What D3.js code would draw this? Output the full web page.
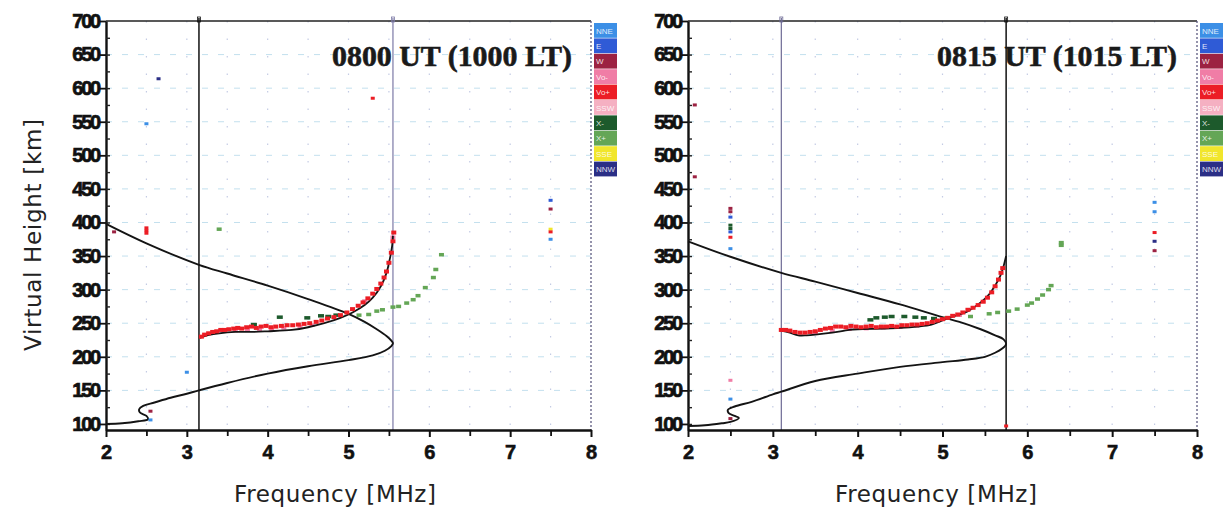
<!DOCTYPE html>
<html>
<head>
<meta charset="utf-8">
<script src="https://cdn.jsdelivr.net/npm/d3@7"></script>
<style>
  html, body { margin: 0; padding: 0; background: #fff; }
  svg { display: block; }
</style>
</head>
<body>
<svg id="chart" width="1225" height="511"></svg>
<script>
// ---- Ionogram data (frequency in MHz, virtual height in km) ----
const freqTicks = [2, 3, 4, 5, 6, 7, 8];
const heightTicks = [100, 150, 200, 250, 300, 350, 400, 450, 500, 550, 600, 650, 700];
const legendKeys = ["NNE", "E", "W", "Vo-", "Vo+", "SSW", "X-", "X+", "SSE", "NNW"];
const legendColors = ["#3c8fe6", "#2f5bd6", "#9c2242", "#f07da6", "#ec1d25", "#f5b0c2", "#1d5a2c", "#64a656", "#f1e62c", "#2b2f86"];

// 0800 UT panel
const titleA = "0800 UT (1000 LT)";
const profileA = [[2.0,100],[2.2,101],[2.4,104],[2.52,107],[2.5,112],[2.42,117],[2.41,122],[2.46,127],[2.6,132],[2.8,139],[3.0,145],[3.15,150],[3.5,161],[4.0,175],[4.5,186],[5.0,195],[5.3,202],[5.45,209],[5.53,216],[5.55,220],[5.53,224],[5.47,231],[5.35,241],[5.2,252],[5.0,264],[4.5,286],[4.0,306],[3.5,324],[3.15,337],[2.5,369],[2.0,398]];
const traceA = [[3.16,228],[3.25,232],[3.4,235],[3.6,237],[3.8,237],[4.0,238],[4.3,240],[4.5,244],[4.7,250],[4.9,258],[5.05,266],[5.2,277],[5.3,288],[5.4,305],[5.47,325],[5.51,345],[5.54,365],[5.55,380]];
const oPlusA = [[3.18,230],[3.22,233],[3.27,235],[3.32,237],[3.37,238],[3.42,240],[3.47,240],[3.52,241],[3.58,242],[3.63,243],[3.68,242],[3.74,244],[3.8,245],[3.86,243],[3.92,245],[3.98,246],[4.04,244],[4.1,245],[4.17,246],[4.24,247],[4.31,247],[4.38,248],[4.45,249],[4.52,250],[4.6,252],[4.67,254],[4.74,257],[4.82,259],[4.9,262],[4.98,266],[5.05,271],[5.12,276],[5.18,281],[5.24,287],[5.3,294],[5.35,301],[5.4,309],[5.44,318],[5.47,327],[5.5,340],[5.53,355],[5.55,372],[5.56,385]];
const oMinusA = [[3.45,238],[3.6,239],[3.75,240],[3.9,240],[4.05,241],[4.2,243],[4.4,245],[4.55,247],[5.2,283],[5.55,378]];
const xMinusA = [[3.83,248],[4.15,259],[4.49,258],[4.66,261],[4.75,260],[4.85,262]];
const xPlusA = [[5.13,262],[5.25,263],[5.35,268],[5.42,270],[5.55,274],[5.62,275],[5.72,280],[5.8,285],[5.86,291],[5.95,303],[6.05,318],[6.08,330],[6.15,352],[3.4,390]];
const scatterA = [[2.65,614,"NNW"],[2.5,547,"NNE"],[2.5,392,"Vo+"],[2.5,388,"Vo+"],[2.5,384,"Vo+"],[2.1,386,"W"],[3.0,177,"NNE"],[2.55,119,"W"],[2.55,106,"NNE"],[5.3,585,"Vo+"],[7.5,433,"E"],[7.5,420,"W"],[7.5,390,"SSE"],[7.5,386,"Vo+"],[7.5,375,"NNE"]];
const markersA = [[3.15,"#111"],[5.55,"#7c79a6"]];

// 0815 UT panel
const titleB = "0815 UT (1015 LT)";
const profileB = [[2.0,97],[2.2,98],[2.4,101],[2.5,103],[2.6,109],[2.55,112],[2.48,116],[2.47,121],[2.55,126],[2.75,133],[3.0,144],[3.1,148],[3.5,164],[4.0,175],[4.5,185],[5.0,192],[5.3,196],[5.5,200],[5.62,206],[5.7,212],[5.75,219],[5.72,226],[5.62,232],[5.45,241],[5.2,252],[5.0,259],[4.5,278],[4.0,295],[3.5,312],[3.1,325],[2.5,349],[2.0,372]];
const traceB = [[3.09,239],[3.2,236],[3.3,232],[3.4,232],[3.5,233],[3.7,236],[3.9,240],[4.0,241],[4.3,242],[4.5,243],[4.7,245],[4.87,248],[5.0,254],[5.1,259],[5.3,268],[5.45,281],[5.55,293],[5.62,306],[5.68,320],[5.72,335],[5.75,350]];
const oPlusB = [[3.1,240],[3.15,240],[3.2,239],[3.26,237],[3.32,236],[3.38,236],[3.44,237],[3.5,238],[3.56,240],[3.62,242],[3.68,243],[3.74,245],[3.8,245],[3.86,244],[3.92,246],[3.98,245],[4.04,244],[4.1,245],[4.16,246],[4.22,244],[4.28,245],[4.34,245],[4.4,246],[4.46,245],[4.52,247],[4.58,247],[4.64,248],[4.7,248],[4.76,249],[4.82,250],[4.88,252],[4.94,254],[5.0,256],[5.06,258],[5.12,261],[5.18,263],[5.24,266],[5.3,270],[5.36,273],[5.42,277],[5.48,282],[5.53,288],[5.58,296],[5.62,305],[5.66,315],[5.69,325],[5.71,332]];
const oMinusB = [[3.5,236],[3.7,239],[3.9,241],[4.1,242],[4.3,243],[4.5,244],[4.7,246],[5.2,262]];
const xMinusB = [[4.15,255],[4.22,258],[4.32,259],[4.4,260],[4.55,260],[4.68,259],[4.78,258],[4.9,257]];
const xPlusB = [[5.05,258],[5.33,260],[5.55,264],[5.65,266],[5.78,268],[5.88,271],[6.0,277],[6.05,280],[6.12,286],[6.18,292],[6.25,300],[6.28,306],[6.4,366],[6.4,370]];
const scatterB = [[2.08,575,"W"],[2.08,468,"W"],[2.5,421,"W"],[2.5,416,"W"],[2.5,408,"E"],[2.5,396,"X-"],[2.5,391,"X-"],[2.5,386,"E"],[2.5,378,"Vo+"],[2.5,361,"NNE"],[2.5,165,"Vo-"],[2.5,137,"NNE"],[2.5,108,"W"],[5.75,97,"Vo+"],[7.5,430,"NNE"],[7.5,416,"NNE"],[7.5,385,"Vo+"],[7.5,372,"NNW"],[7.5,358,"W"]];
const markersB = [[3.1,"#6d6a94"],[5.75,"#111"]];

const colorOf = d3.scaleOrdinal(legendKeys, legendColors);
const svg = d3.select("#chart");

function drawPanel(cfg) {
  const x = d3.scaleLinear([2, 8], cfg.xRange);
  const y = d3.scaleLinear([91, 700], [430, 21]);
  const g = svg.append("g");
  const [x0, x1] = cfg.xRange;
  const [yb, yt] = y.range();

  // faint grid
  const grid = g.append("g");
  grid.selectAll("line.h").data(heightTicks.filter(h => h > 100 && h < 700)).join("line")
    .attr("x1", x0).attr("x2", x1).attr("y1", d => y(d)).attr("y2", d => y(d))
    .attr("stroke", "#c3e0ee").attr("stroke-width", 1).attr("stroke-dasharray", "6,10");
  grid.selectAll("line.v").data(d3.range(2.5, 8, 0.5)).join("line")
    .attr("x1", d => x(d)).attr("x2", d => x(d)).attr("y1", yt).attr("y2", yb)
    .attr("stroke", "#c4cbe4").attr("stroke-width", 1.2).attr("stroke-dasharray", "1.5,16");

  // top frame and dotted right border
  g.append("line").attr("x1", x0).attr("x2", x1).attr("y1", yt).attr("y2", yt)
    .attr("stroke", "#222").attr("stroke-width", 1.6);
  g.append("line").attr("x1", x1).attr("x2", x1).attr("y1", yt).attr("y2", yb)
    .attr("stroke", "#5d5b80").attr("stroke-width", 1.3).attr("stroke-dasharray", "2,2");

  // frequency markers
  cfg.markers.forEach(([f, c]) => {
    g.append("line").attr("x1", x(f)).attr("x2", x(f)).attr("y1", yt - 3).attr("y2", yb)
      .attr("stroke", c).attr("stroke-width", c === "#111" ? 1.5 : 1.2);
    g.append("rect").attr("x", x(f) - 1.5).attr("y", yt - 4).attr("width", 3).attr("height", 5)
      .attr("fill", "none").attr("stroke", c).attr("stroke-width", 0.8);
  });

  // axes
  const xAxis = g.append("g").attr("transform", `translate(0,${yb})`)
    .call(d3.axisBottom(x).tickValues(freqTicks).tickSize(7).tickSizeOuter(0).tickPadding(8).tickFormat(d3.format("d")));
  g.append("g").attr("transform", `translate(0,${yb})`)
    .call(d3.axisBottom(x).tickValues(d3.range(2.5, 8, 1)).tickSize(6).tickFormat(""))
    .call(a => a.select(".domain").remove())
    .selectAll(".tick line").attr("stroke", "#111").attr("stroke-width", 1.8);
  xAxis.select(".domain").attr("stroke", "#111").attr("stroke-width", 2.4);
  xAxis.selectAll(".tick line").attr("stroke", "#111").attr("stroke-width", 2);
  xAxis.selectAll(".tick text").attr("font-family", "'Liberation Sans', Arial, sans-serif")
    .attr("font-weight", "bold").attr("font-size", 20).attr("fill", "#111")
    .attr("stroke", "#111").attr("stroke-width", 0.6);

  const yAxis = g.append("g").attr("transform", `translate(${x0},0)`)
    .call(d3.axisLeft(y).tickValues(heightTicks).tickSize(6).tickSizeOuter(0).tickPadding(1).tickFormat(d3.format("d")));
  yAxis.select(".domain").attr("stroke", "#111").attr("stroke-width", 2.4);
  yAxis.selectAll(".tick line").attr("stroke", "#111").attr("stroke-width", 1.8);
  yAxis.selectAll(".tick text").attr("font-family", "'Liberation Sans', Arial, sans-serif")
    .attr("font-weight", "bold").attr("font-size", 20).attr("letter-spacing", -2.2).attr("fill", "#111")
    .attr("stroke", "#111").attr("stroke-width", 0.7);
  g.append("g").attr("transform", `translate(${x0},0)`)
    .call(d3.axisRight(y).tickValues(d3.range(100, 700, 25)).tickSize(4).tickFormat(""))
    .call(a => a.select(".domain").remove())
    .selectAll(".tick line").attr("stroke", "#222").attr("stroke-width", 1.4);

  // height profile and fitted trace
  const line = d3.line().x(d => x(d[0])).y(d => y(d[1])).curve(d3.curveCatmullRom.alpha(0.5));
  g.append("path").datum(cfg.profile).attr("d", line)
    .attr("fill", "none").attr("stroke", "#141414").attr("stroke-width", 1.9);

  // echo points
  const dots = (data, color, w, h) => g.append("g").selectAll("rect").data(data).join("rect")
    .attr("x", d => x(d[0]) - w / 2).attr("y", d => y(d[1]) - h / 2)
    .attr("width", w).attr("height", h).attr("fill", color);
  dots(cfg.oMinus, colorOf("Vo-"), 5, 3.5);
  dots(cfg.xMinus, colorOf("X-"), 6, 3.5);
  dots(cfg.xPlus, colorOf("X+"), 5, 3.5);
  g.append("path").datum(cfg.trace).attr("d", line)
    .attr("fill", "none").attr("stroke", "#141414").attr("stroke-width", 1.8);
  dots(cfg.oPlus, colorOf("Vo+"), 5, 4);
  g.append("g").selectAll("rect").data(cfg.scatter).join("rect")
    .attr("x", d => x(d[0]) - 2).attr("y", d => y(d[1]) - 1.5)
    .attr("width", 4).attr("height", 3).attr("fill", d => colorOf(d[2]));

  // title
  g.append("text").attr("x", cfg.titleX).attr("y", 66)
    .attr("font-family", "'Liberation Serif', 'Times New Roman', serif").attr("font-weight", "bold")
    .attr("font-size", 30).attr("textLength", 240).attr("lengthAdjust", "spacingAndGlyphs")
    .attr("fill", "#1a1a1a").attr("stroke", "#1a1a1a").attr("stroke-width", 0.6).text(cfg.title);

  // axis titles
  g.append("text").attr("x", cfg.xTitleX).attr("y", 502).attr("text-anchor", "middle")
    .attr("font-family", "'DejaVu Sans', Verdana, sans-serif").attr("font-size", 23)
    .attr("textLength", 202).attr("fill", "#222").text("Frequency [MHz]");

  // legend
  const lg = g.append("g").attr("transform", `translate(${cfg.legendX},23)`);
  const bh = 15.4;
  lg.selectAll("rect").data(legendKeys).join("rect")
    .attr("x", 0).attr("y", (d, i) => i * bh).attr("width", 23).attr("height", bh - 0.6)
    .attr("fill", d => colorOf(d));
  lg.selectAll("text").data(legendKeys).join("text")
    .attr("x", 2).attr("y", (d, i) => i * bh + 10.5)
    .attr("font-family", "'Liberation Sans', Arial, sans-serif").attr("font-size", 8)
    .attr("fill", "#fff").attr("fill-opacity", 0.85).text(d => d);
}

drawPanel({ xRange: [106, 591], title: titleA, titleX: 332, xTitleX: 335, legendX: 594,
  profile: profileA, trace: traceA, oPlus: oPlusA, oMinus: oMinusA, xMinus: xMinusA, xPlus: xPlusA,
  scatter: scatterA, markers: markersA });
drawPanel({ xRange: [688, 1197], title: titleB, titleX: 937, xTitleX: 936, legendX: 1200,
  profile: profileB, trace: traceB, oPlus: oPlusB, oMinus: oMinusB, xMinus: xMinusB, xPlus: xPlusB,
  scatter: scatterB, markers: markersB });

svg.append("text").attr("transform", "translate(41,235) rotate(-90)").attr("text-anchor", "middle")
  .attr("font-family", "'DejaVu Sans', Verdana, sans-serif").attr("font-size", 23)
  .attr("textLength", 232).attr("fill", "#222").text("Virtual Height [km]");
</script>
</body>
</html>
